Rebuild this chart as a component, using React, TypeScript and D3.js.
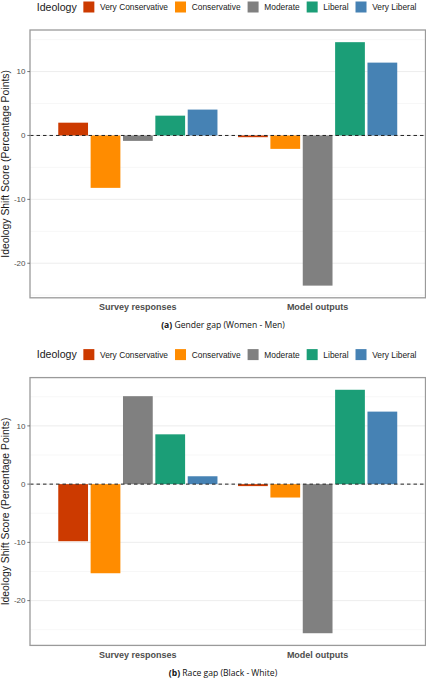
import * as d3 from 'd3';
import { useMemo } from 'react';

// Data
const ideologies = ['Very Conservative', 'Conservative', 'Moderate', 'Liberal', 'Very Liberal'];
const colors = ['#cc3a00', '#ff8c00', '#808080', '#1b9e77', '#4682b4'];
const sources = ['Survey responses', 'Model outputs'];

const genderSurvey = [2.0, -8.2, -0.85, 3.1, 4.05];
const genderModel = [-0.27, -2.1, -23.5, 14.6, 11.4];
const raceSurvey = [-9.8, -15.3, 15.1, 8.55, 1.35];
const raceModel = [-0.34, -2.3, -25.6, 16.2, 12.45];

const WIDTH = 426;
const HEIGHT = 680;
const PANEL_H = 347.6;
const FONT = 'Liberation Sans, Arial, Helvetica, sans-serif';
const CAPTION_FONT = '"Open Sans", "Noto Sans", sans-serif';

const textWidth = (() => {
  const ctx = document.createElement('canvas').getContext('2d');
  return (txt: string, font: string) => {
    if (!ctx) return txt.length * 5;
    ctx.font = font;
    return ctx.measureText(txt).width;
  };
})();

type PanelProps = {
  top: number;
  survey: number[];
  model: number[];
  tag: string;
  caption: string;
};

const Legend = () => {
  const titleFont = `10.6px ${FONT}`;
  const labelFont = `8.4px ${FONT}`;
  let x = 36.7;
  const titleX = x;
  x += textWidth('Ideology', titleFont) + 6.6;
  const items = ideologies.map((name, i) => {
    const kx = x;
    x += 11 + 5.7 + textWidth(name, labelFont) + 7;
    return { name, kx, color: colors[i] };
  });
  return (
    <g>
      <text x={titleX} y={7} dy="0.35em" fontFamily={FONT} fontSize={10.6} fill="#1a1a1a">
        Ideology
      </text>
      {items.map((d) => (
        <g key={d.name}>
          <rect x={d.kx} y={1.5} width={11} height={11} fill={d.color} />
          <text x={d.kx + 16.7} y={7} dy="0.35em" fontFamily={FONT} fontSize={8.4} fill="#1a1a1a">
            {d.name}
          </text>
        </g>
      ))}
    </g>
  );
};

const Panel = ({ top, survey, model, tag, caption }: PanelProps) => {
  const left = 30;
  const right = 425.5;
  const plotTop = 30;
  const plotBottom = 297.8;
  const rows = [survey, model];

  const x0 = useMemo(
    () => d3.scaleBand().domain(sources).range([left, right]).paddingInner(0.1).paddingOuter(0.15),
    []
  );
  const x1 = useMemo(() => d3.scaleBand().domain(ideologies).range([0, x0.bandwidth()]), [x0]);

  const y = useMemo(() => {
    const all = [0, ...survey, ...model];
    const lo = d3.min(all) as number;
    const hi = d3.max(all) as number;
    const pad = (hi - lo) * 0.05;
    return d3.scaleLinear().domain([lo - pad, hi + pad]).range([plotBottom, plotTop]);
  }, [survey, model]);

  const major = y.ticks(5);
  const step = major[1] - major[0];
  const minor = d3
    .range(major[0] - step / 2, major[major.length - 1] + step, step)
    .filter((v) => v >= y.domain()[0] && v <= y.domain()[1]);

  return (
    <g transform={`translate(0,${top})`}>
      <Legend />
      <rect x={left} y={plotTop} width={right - left} height={plotBottom - plotTop} fill="white" />
      {minor.map((v) => (
        <line key={`m${v}`} x1={left} x2={right} y1={y(v)} y2={y(v)} stroke="#f2f2f2" strokeWidth={0.6} />
      ))}
      {major.map((v) => (
        <line key={`g${v}`} x1={left} x2={right} y1={y(v)} y2={y(v)} stroke="#ebebeb" strokeWidth={0.9} />
      ))}
      {rows.map((vals, gi) =>
        vals.map((v, i) => {
          const bx = (x0(sources[gi]) as number) + (x1(ideologies[i]) as number);
          return (
            <rect
              key={`${gi}-${i}`}
              x={bx + 1.3}
              width={x1.bandwidth() - 2.6}
              y={Math.min(y(v), y(0))}
              height={Math.abs(y(v) - y(0))}
              fill={colors[i]}
            />
          );
        })
      )}
      <line
        x1={left}
        x2={right}
        y1={y(0)}
        y2={y(0)}
        stroke="#222"
        strokeWidth={1}
        strokeDasharray="3.5,3"
      />
      <rect
        x={left}
        y={plotTop}
        width={right - left}
        height={plotBottom - plotTop}
        fill="none"
        stroke="#9a9a9a"
        strokeWidth={1.3}
      />
      {major.map((v) => (
        <g key={`t${v}`}>
          <line x1={left - 2.7} x2={left} y1={y(v)} y2={y(v)} stroke="#555" strokeWidth={0.8} />
          <text
            x={left - 4.5}
            y={y(v)}
            dy="0.35em"
            textAnchor="end"
            fontFamily={FONT}
            fontSize={8}
            fill="#4d4d4d"
          >
            {v}
          </text>
        </g>
      ))}
      {sources.map((s) => (
        <text
          key={s}
          x={(x0(s) as number) + x0.bandwidth() / 2}
          y={plotBottom + 9}
          dy="0.35em"
          textAnchor="middle"
          fontFamily={FONT}
          fontSize={9}
          fontWeight="bold"
          fill="#4d4d4d"
        >
          {s}
        </text>
      ))}
      <text
        transform={`translate(8.5,${(plotTop + plotBottom) / 2}) rotate(-90)`}
        textAnchor="middle"
        fontFamily={FONT}
        fontSize={10.4}
        fill="#1a1a1a"
      >
        Ideology Shift Score (Percentage Points)
      </text>
      <text
        x={223}
        y={plotBottom + 27.5}
        dy="0.35em"
        textAnchor="middle"
        fontFamily={CAPTION_FONT}
        fontSize={8.6}
        fill="#111"
      >
        <tspan fontWeight="bold">{tag}</tspan> {caption}
      </text>
    </g>
  );
};

export default function App() {
  return (
    <svg
      width={WIDTH}
      height={HEIGHT}
      style={{ position: 'absolute', left: 0, top: 0, background: 'white' }}
    >
      <rect width={WIDTH} height={HEIGHT} fill="white" />
      <Panel top={0} survey={genderSurvey} model={genderModel} tag="(a)" caption="Gender gap (Women - Men)" />
      <Panel
        top={PANEL_H}
        survey={raceSurvey}
        model={raceModel}
        tag="(b)"
        caption="Race gap (Black - White)"
      />
    </svg>
  );
}
